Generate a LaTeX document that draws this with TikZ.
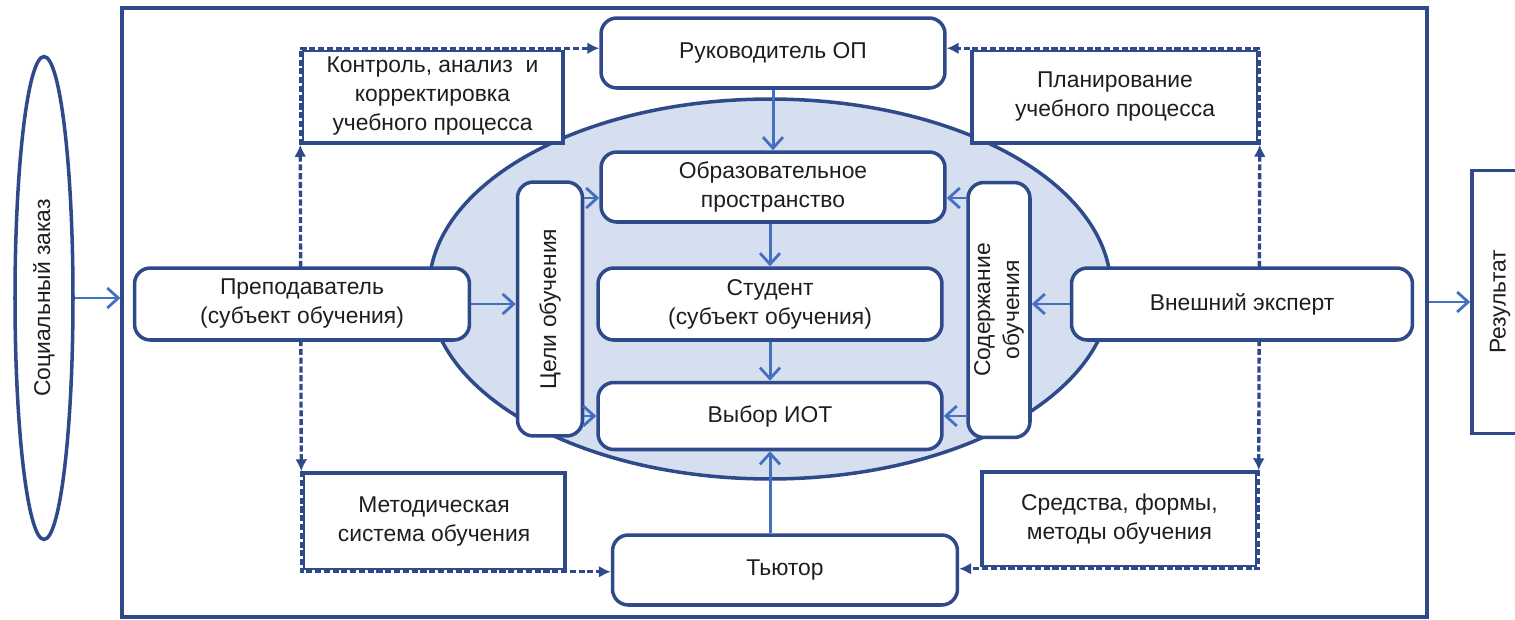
\documentclass[tikz,border=0pt]{standalone}
\usepackage{fontspec}
\setmainfont{Liberation Sans}
\usepackage{xcolor}
\usetikzlibrary{shapes,arrows,positioning,calc,arrows.meta}

\definecolor{frameblue}{HTML}{2F4A8A}
\definecolor{arrowblue}{HTML}{4470C0}
\definecolor{ovalfill}{HTML}{D6DFF0}
\definecolor{txt}{HTML}{1E1E1E}

\tikzset{
  box/.style={draw=frameblue, line width=2pt, rounded corners=9pt, fill=white,
    align=center, text=txt, inner sep=0pt, font=\fontsize{13}{16.5}\selectfont},
  sqbox/.style={box, rounded corners=0pt},
  arr/.style={-{Straight Barb[length=2.2mm,width=4mm,line width=1.6pt]}, arrowblue, line width=1.7pt},
  dtip/.style={-{Latex[length=2.4mm,width=2.4mm]}},
  dasharr/.style={dtip, frameblue, line width=1.9pt,
    dash pattern=on 3.5pt off 1.5pt, preaction={draw=white, solid, line width=2.1pt}},
}

\begin{document}
\begin{tikzpicture}[x=0.02cm, y=-0.02cm]
    \useasboundingbox (0,0) rectangle (1515,619);
    \clip (0,0) rectangle (1515,619);

    % frame and oval
    \node [draw=frameblue, line width=2pt, minimum width=26.1cm, minimum height=12.18cm] (frame) at (774.5,312.5) {};
    \node [ellipse, draw=frameblue, fill=ovalfill, line width=2pt, minimum width=13.64cm, minimum height=7.6cm] (oval) at (770,289) {};

    % outside
    \node [box, ellipse, rotate=90, minimum width=9.66cm, minimum height=1.16cm] (social) at (44,298) {Социальный заказ};
    \node [sqbox, rotate=90, minimum width=5.26cm, minimum height=1.12cm] (result) at (1500,302) {Результат};

    % inner boxes
    \node [box, minimum width=6.88cm, minimum height=1.4cm] (ruk) at (773,53) {Руководитель ОП};
    \node [box, minimum width=6.88cm, minimum height=1.4cm] (obr) at (773,187) {Образовательное\\пространство};
    \node [box, minimum width=6.88cm, minimum height=1.44cm] (stud) at (770,304) {Студент\\(субъект обучения)};
    \node [box, minimum width=6.88cm, minimum height=1.34cm] (vybor) at (770,416) {Выбор ИОТ};
    \node [box, rotate=90, minimum width=5.08cm, minimum height=1.3cm] (celi) at (550,309) {Цели обучения};
    \node [box, rotate=90, minimum width=5.1cm, minimum height=1.24cm] (sod) at (999,310) {Содержание\\обучения};
    \node [box, minimum width=6.9cm, minimum height=1.4cm] (tutor) at (785,570) {Тьютор};

    % corner boxes
    \node [sqbox, minimum width=5.22cm, minimum height=1.86cm] (kontrol) at (432.5,96.5) {Контроль, анализ\ \ и\\корректировка\\учебного процесса};
    \node [sqbox, minimum width=5.72cm, minimum height=1.86cm] (plan) at (1115,96.5) {Планирование\\учебного процесса};
    \node [sqbox, minimum width=5.24cm, minimum height=1.94cm] (metod) at (434,521.5) {Методическая\\система обучения};
    \node [sqbox, minimum width=5.5cm, minimum height=1.9cm] (sredstva) at (1119.5,519.5) {Средства, формы,\\методы обучения};

    % dashed loops
    \draw [dasharr] (kontrol.south west) -- (kontrol.north west) -- (kontrol.north west -| ruk.west);
    \draw [dasharr, {Latex[length=2.4mm,width=2.4mm]}-{Latex[length=2.4mm,width=2.4mm]}] (kontrol.south west) -- (metod.north west);
    \draw [dasharr] (metod.north west) -- (metod.south west) -- (metod.south west -| tutor.west);
    \draw [dasharr] (plan.south east) -- (plan.north east) -- (plan.north east -| ruk.east);
    \draw [dasharr, {Latex[length=2.4mm,width=2.4mm]}-{Latex[length=2.4mm,width=2.4mm]}] (plan.south east) -- (sredstva.north east);
    \draw [dasharr] (sredstva.north east) -- (sredstva.south east) -- (sredstva.south east -| tutor.east);

    % side boxes (over the dashed lines)
    \node [box, minimum width=6.7cm, minimum height=1.44cm] (prep) at (302,304) {Преподаватель\\(субъект обучения)};
    \node [box, minimum width=6.82cm, minimum height=1.44cm] (expert) at (1242,304) {Внешний эксперт};

    % arrows
    \draw [arr] (social) -- (social -| frame.west);
    \draw [arr] (frame.east |- result) -- (result);
    \draw [arr] (ruk.south) -- (obr.north);
    \draw [arr] (obr.south -| stud.north) -- (stud.north);
    \draw [arr] (stud.south) -- (vybor.north);
    \draw [arr] (tutor.north -| vybor.south) -- (vybor.south);
    \draw [arr] (prep.east) -- (prep.east -| celi.north);
    \draw [arr] (expert.west) -- (expert.west -| sod.south);
    \draw [arr] ([yshift=-0.22cm]obr.west -| celi.south) -- ([yshift=-0.22cm]obr.west);
    \draw [arr] (vybor.west -| celi.south) -- (vybor.west);
    \draw [arr] ([yshift=-0.22cm]obr.east -| sod.north) -- ([yshift=-0.22cm]obr.east);
    \draw [arr] (vybor.east -| sod.north) -- (vybor.east);

\end{tikzpicture}
\end{document}
